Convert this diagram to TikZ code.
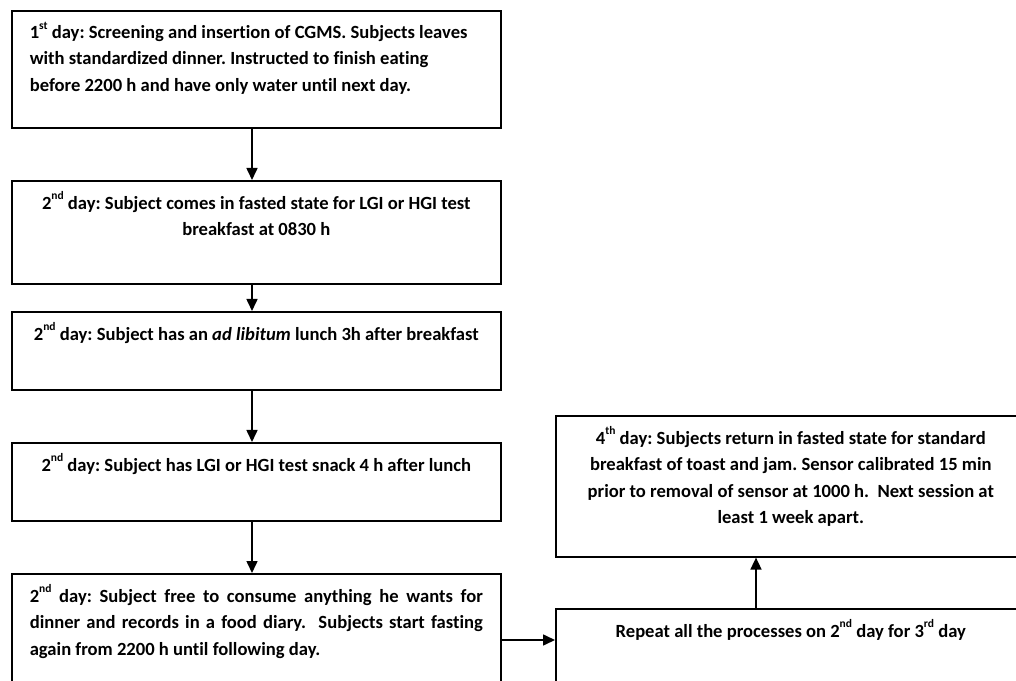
\documentclass[tikz,border=0pt]{standalone}
\usepackage{fontspec}
\setmainfont{Carlito}[Ligatures=NoCommon]
\usetikzlibrary{arrows.meta}

\newcommand{\daytext}{\bfseries\frenchspacing\fontsize{18.6}{26.5}\selectfont}
% small raised ordinal ending
\newcommand{\ord}[1]{\raisebox{0.5em}{\fontsize{11.5}{11.5}\selectfont #1}}
% fixed-size text block: width, height, contents
\newcommand{\stagetext}[3]{\parbox[t][#2][t]{#1}{#3}}

\tikzset{
  daybox/.style={draw, line width=1.6pt, anchor=north west, inner xsep=18pt, inner ysep=11pt, font=\daytext},
  flow/.style={line width=1.6pt, -{Triangle[length=12pt,width=11pt]}}
}

\begin{document}
\begin{tikzpicture}[x=1pt, y=1pt]
	\useasboundingbox (0, 0) rectangle (1016, 680);
	% left column, one box per stage
	\node[daybox] (first) at (11, 670) {\stagetext{453pt}{95pt}{\raggedright
		1\ord{st} day: Screening and insertion of CGMS. Subjects leaves\\
		with standardized dinner. Instructed to finish eating\\
		before 2200 h and have only water until next day.}};
	\node[daybox] (breakfast) at (11, 500) {\stagetext{453pt}{81pt}{\centering
		2\ord{nd} day: Subject comes in fasted state for LGI or HGI test\\
		breakfast at 0830 h}};
	\node[daybox] (lunch) at (11, 369) {\stagetext{453pt}{56pt}{\centering
		2\ord{nd} day: Subject has an \textit{ad libitum} lunch 3h after breakfast}};
	\node[daybox] (snack) at (11, 238) {\stagetext{453pt}{56pt}{\centering
		2\ord{nd} day: Subject has LGI or HGI test snack 4 h after lunch}};
	\node[daybox] (dinner) at (11, 107) {\stagetext{453pt}{105pt}{%
		2\ord{nd} day: Subject free to consume anything he wants for\linebreak
		dinner and records in a food diary.\ \ Subjects start fasting\linebreak
		again from 2200 h until following day.}};
	% right column
	\node[daybox] (removal) at (555, 265) {\stagetext{434pt}{119pt}{\centering
		4\ord{th} day: Subjects return in fasted state for standard\\
		breakfast of toast and jam. Sensor calibrated 15 min\\
		prior to removal of sensor at 1000 h.\ \ Next session at\\
		least 1 week apart.}};
	\node[daybox] (repeat) at (555, 72) {\stagetext{434pt}{78pt}{\centering
		Repeat all the processes on 2\ord{nd} day for 3\ord{rd} day}};
	% connectors
	\coordinate (spine) at (252, 0);
	\coordinate (riser) at (756, 0);
	\coordinate (hook) at (0, 40);
	\draw[flow] (first.south -| spine) -- (breakfast.north -| spine);
	\draw[flow] (breakfast.south -| spine) -- (lunch.north -| spine);
	\draw[flow] (lunch.south -| spine) -- (snack.north -| spine);
	\draw[flow] (snack.south -| spine) -- (dinner.north -| spine);
	\draw[flow] (dinner.east |- hook) -- (repeat.west |- hook);
	\draw[flow] (repeat.north -| riser) -- (removal.south -| riser);
\end{tikzpicture}
\end{document}
